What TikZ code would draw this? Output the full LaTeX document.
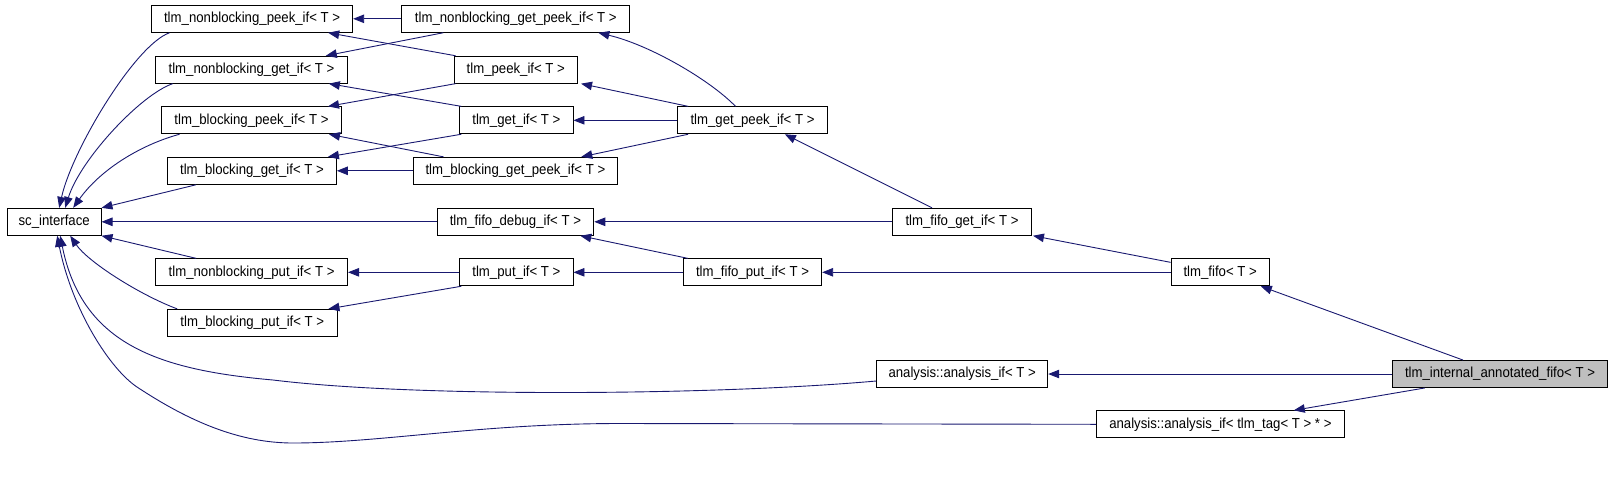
\documentclass[tikz,border=0pt]{standalone}
\usepackage{fontspec}
\setmainfont{Liberation Sans}[FakeStretch=0.91]
\usetikzlibrary{arrows.meta}
\definecolor{edgeblue}{HTML}{191970}
\definecolor{curfill}{HTML}{BFBFBF}
\tikzset{
  cls/.style={draw=black, line width=0.9pt, fill=white, minimum height=27pt,
    inner sep=0pt, anchor=center, font=\fontsize{14.5}{17}\selectfont},
  cur/.style={cls, fill=curfill},
  inh/.style={draw=edgeblue, line width=0.9pt, -{Triangle[length=11pt,width=8.5pt]}},
}
\begin{document}
\begin{tikzpicture}[x=1pt, y=-1pt]
\useasboundingbox (0,0) rectangle (1613,488);
% nodes
\node[cls, minimum width=93.7pt]  (sc)        at (54.2,221.8)  {sc\_interface};
\node[cls, minimum width=201.2pt] (nbpeek)    at (252.1,18.8)  {tlm\_nonblocking\_peek\_if< T >};
\node[cls, minimum width=228.2pt] (nbgetpeek) at (515.8,18.8)  {tlm\_nonblocking\_get\_peek\_if< T >};
\node[cls, minimum width=191.7pt] (nbget)     at (251.5,69.7)  {tlm\_nonblocking\_get\_if< T >};
\node[cls, minimum width=123.6pt] (peekif)    at (515.8,69.7)  {tlm\_peek\_if< T >};
\node[cls, minimum width=180.1pt] (bpeek)     at (251.5,120.3) {tlm\_blocking\_peek\_if< T >};
\node[cls, minimum width=113.2pt] (getif)     at (516.4,120.3) {tlm\_get\_if< T >};
\node[cls, minimum width=149.8pt] (getpeek)   at (752.5,120.3) {tlm\_get\_peek\_if< T >};
\node[cls, minimum width=168.9pt] (bget)      at (252.0,170.8) {tlm\_blocking\_get\_if< T >};
\node[cls, minimum width=204.9pt] (bgetpeek)  at (515.4,170.8) {tlm\_blocking\_get\_peek\_if< T >};
\node[cls, minimum width=156.8pt] (fifodebug) at (515.4,221.8) {tlm\_fifo\_debug\_if< T >};
\node[cls, minimum width=139pt]   (fifoget)   at (962.0,221.8) {tlm\_fifo\_get\_if< T >};
\node[cls, minimum width=192pt]   (nbput)     at (251.6,272.3) {tlm\_nonblocking\_put\_if< T >};
\node[cls, minimum width=113.2pt] (putif)     at (516.4,272.3) {tlm\_put\_if< T >};
\node[cls, minimum width=138.4pt] (fifoput)   at (752.5,272.3) {tlm\_fifo\_put\_if< T >};
\node[cls, minimum width=98.3pt]  (tlmfifo)   at (1220.2,272.3) {tlm\_fifo< T >};
\node[cls, minimum width=169.4pt] (bput)      at (252.3,322.8) {tlm\_blocking\_put\_if< T >};
\node[cls, minimum width=171.1pt] (anaif)     at (962.2,374.0) {analysis::analysis\_if< T >};
\node[cur, minimum width=215.4pt] (internal)  at (1500.0,374.0) {tlm\_internal\_annotated\_fifo< T >};
\node[cls, minimum width=247.8pt] (anatag)    at (1220.4,424.3) {analysis::analysis\_if< tlm\_tag< T > * >};
% edges
\draw[inh] (nbgetpeek.west) -- (nbpeek.east);
\draw[inh] ([xshift=42pt]nbgetpeek.south west) -- ([xshift=-22pt]nbget.north east);
\draw[inh] ([xshift=2pt]peekif.north west) -- ([xshift=-25pt]nbpeek.south east);
\draw[inh] ([xshift=2pt]peekif.south west) -- ([xshift=-14pt]bpeek.north east);
\draw[inh] ([xshift=2pt]getif.north west) -- ([xshift=-19pt]nbget.south east);
\draw[inh] ([xshift=2pt]getif.south west) -- ([xshift=-9pt]bget.north east);
\draw[inh] ([xshift=31pt]bgetpeek.north west) -- ([xshift=-13pt]bpeek.south east);
\draw[inh] (bgetpeek.west) -- (bget.east);
\draw[inh] ([xshift=-17pt]getpeek.north) .. controls (710,80) and (650,45) .. ([xshift=-32pt]nbgetpeek.south east);
\draw[inh] ([xshift=11pt]getpeek.north west) -- ([xshift=3pt]peekif.south east);
\draw[inh] (getpeek.west) -- (getif.east);
\draw[inh] ([xshift=11pt]getpeek.south west) -- ([xshift=-37pt]bgetpeek.north east);
\draw[inh] ([xshift=-30pt]fifoget.north) -- ([xshift=-43pt]getpeek.south east);
\draw[inh] (fifoget.west) -- (fifodebug.east);
\draw[inh] ([xshift=5pt]fifoput.north west) -- ([xshift=-14pt]fifodebug.south east);
\draw[inh] (fifoput.west) -- (putif.east);
\draw[inh] (putif.west) -- (nbput.east);
\draw[inh] ([xshift=2pt]putif.south west) -- ([xshift=-9pt]bput.north east);
\draw[inh] ([yshift=-4pt]tlmfifo.north west) -- ([xshift=1pt]fifoget.south east);
\draw[inh] (tlmfifo.west) -- (fifoput.east);
\draw[inh] ([xshift=-37pt]internal.north) -- ([xshift=-9pt]tlmfifo.south east);
\draw[inh] (internal.west) -- (anaif.east);
\draw[inh] ([xshift=33pt]internal.south west) -- ([xshift=-51pt]anatag.north east);
\draw[inh] (fifodebug.west) -- (sc.east);
\draw[inh] ([xshift=18.5pt]nbpeek.south west) .. controls (135,45) and (72,150) .. ([xshift=5pt]sc.north);
\draw[inh] ([xshift=17.5pt]nbget.south west) .. controls (140,95) and (80,160) .. ([xshift=11pt]sc.north);
\draw[inh] ([xshift=18.5pt]bpeek.south west) .. controls (140,145) and (100,170) .. ([xshift=19pt]sc.north);
\draw[inh] ([xshift=29pt]bget.south west) -- (sc.north east);
\draw[inh] ([xshift=41pt]nbput.north west) -- (sc.south east);
\draw[inh] ([xshift=10pt]bput.north west) .. controls (140,295) and (88,262) .. ([xshift=16pt]sc.south);
\draw[inh] ([yshift=-7pt]anaif.west) .. controls (720,395) and (420,398) .. (273,380)
  .. controls (160,370) and (82,345) .. ([xshift=6pt]sc.south);
\draw[inh] (anatag.west) -- (620,423.5) .. controls (480,423.5) and (380,443) .. (293,443)
  .. controls (240,443) and (190,422) .. (137,387)
  .. controls (110,369) and (72,310) .. ([xshift=3pt]sc.south);
\end{tikzpicture}
\end{document}
